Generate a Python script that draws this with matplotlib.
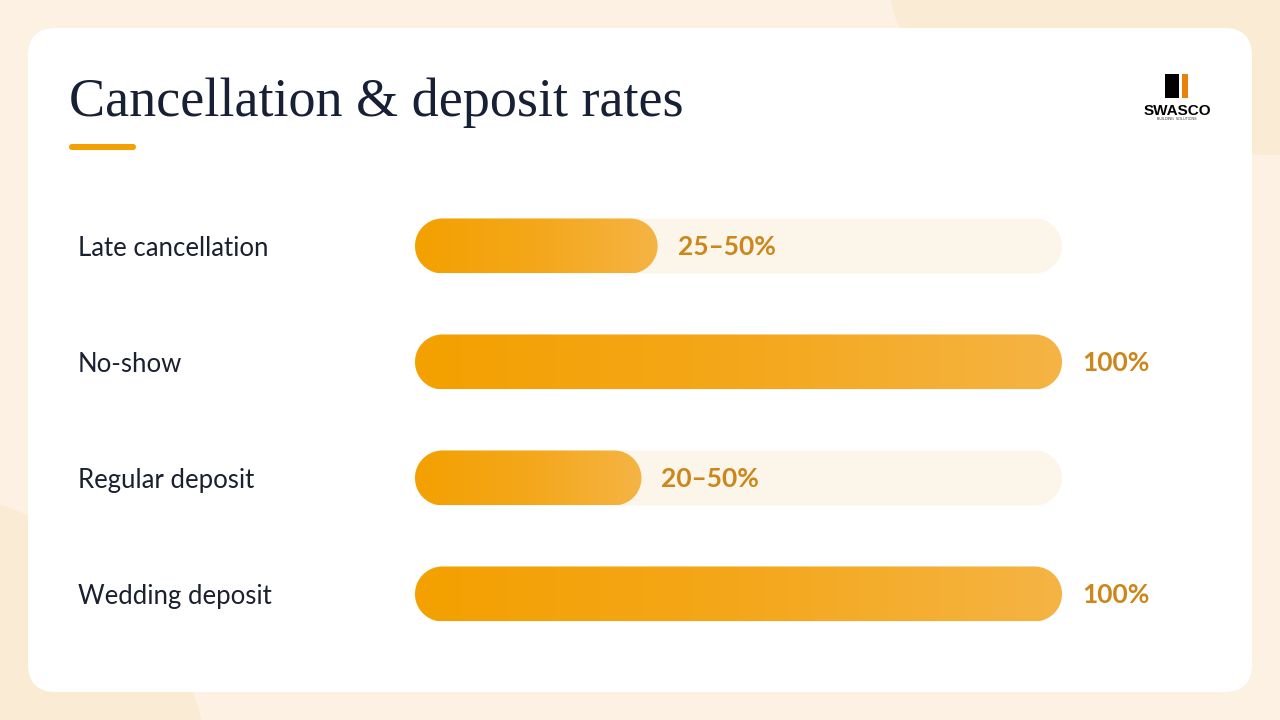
"""Cancellation & deposit rates: rounded gradient progress bars on a card."""
import numpy as np
import matplotlib
matplotlib.use("Agg")
import matplotlib.pyplot as plt
from matplotlib.patches import FancyBboxPatch, Ellipse, Rectangle, Circle, PathPatch
from matplotlib.path import Path
from matplotlib.colors import LinearSegmentedColormap
from matplotlib.transforms import blended_transform_factory

# data
categories = ["Late cancellation", "No-show", "Regular deposit", "Wedding deposit"]
values = [37.5, 100, 35, 100]          # midpoint of the quoted range, % of track
value_labels = ["25–50%", "100%", "20–50%", "100%"]

TITLE = "Cancellation & deposit rates"

W, H = 1280, 720
BG = "#FCF1E3"
BLOB = "#FAEBD5"
CARD = "#FFFFFF"
TRACK = "#FCF5EA"
ORANGE = "#F4A100"
VALUE_COLOR = "#CC861A"
TEXT = "#1A2030"

grad = LinearSegmentedColormap.from_list("bar", ["#F3A000", "#F4A71A", "#F5B444"])


def stadium(x_start, x_end, yc, rx, ry):
    """Closed pill outline with true semicircular ends (rx, ry in data units)."""
    t = np.linspace(-np.pi / 2, np.pi / 2, 40)
    right = np.column_stack([x_end - rx + rx * np.cos(t), yc + ry * np.sin(t)])
    left = np.column_stack([x_start + rx - rx * np.cos(t), yc - ry * np.sin(t)])
    verts = np.vstack([right, left, right[:1]])
    codes = [Path.MOVETO] + [Path.LINETO] * (len(verts) - 2) + [Path.CLOSEPOLY]
    return Path(verts, codes)


fig = plt.figure(figsize=(W / 100, H / 100), dpi=100)
fig.patch.set_facecolor(BG)

# background layer in pixel coordinates
bg = fig.add_axes([0, 0, 1, 1])
bg.set_xlim(0, W)
bg.set_ylim(H, 0)
bg.axis("off")
bg.add_patch(Ellipse((1280, -10), 780, 330, color=BLOB, lw=0))
bg.add_patch(Circle((-100, 800), 312, color=BLOB, lw=0))
bg.add_patch(FancyBboxPatch((28, 28), 1224, 664,
                            boxstyle="round,pad=0,rounding_size=28",
                            fc=CARD, ec="none"))

# title + accent underline
bg.text(69, 116, TITLE, fontsize=39, family="Liberation Serif",
        color="#182035", ha="left", va="baseline")
bg.add_patch(FancyBboxPatch((69, 144), 67, 6,
                            boxstyle="round,pad=0,rounding_size=3",
                            fc=ORANGE, ec="none"))

# logo
bg.add_patch(Rectangle((1165, 74), 14, 24, fc="#000000", ec="none"))
bg.add_patch(Rectangle((1182, 74), 6, 24, fc="#E8820C", ec="none"))
bg.text(1177, 115, "SWASCO", fontsize=11, family="Liberation Sans",
        weight="bold", color="#000000", ha="center", va="baseline")
bg.text(1177, 120, "BUILDING  SOLUTIONS", fontsize=2.6, family="Liberation Sans",
        color="#333333", ha="center", va="baseline")

# bar axes: x 0..100 spans pixels 415..1062, rows 116 px apart
x0, x1 = 415, 1062
y_top, y_bot = 188, 652
ax = fig.add_axes([x0 / W, 1 - y_bot / H, (x1 - x0) / W, (y_bot - y_top) / H])
ax.set_xlim(0, 100)
ax.set_ylim(len(categories) - 0.5, -0.5)
ax.axis("off")
ax.patch.set_alpha(0)

px_per_x = (x1 - x0) / 100
px_per_y = (y_bot - y_top) / len(categories)
bar_h = 55 / px_per_y
rx = 27.5 / px_per_x
ry = bar_h / 2

label_tf = blended_transform_factory(fig.transFigure, ax.transData)

for i, (cat, val, lab) in enumerate(zip(categories, values, value_labels)):
    ax.add_patch(PathPatch(stadium(0, 100, i, rx, ry), fc=TRACK, ec="none"))
    bar = PathPatch(stadium(0, val, i, rx, ry), fc="none", ec="none")
    ax.add_patch(bar)
    img = ax.imshow(np.linspace(0, 1, 256).reshape(1, -1), cmap=grad,
                    extent=[0, val, i + bar_h / 2, i - bar_h / 2],
                    aspect="auto", interpolation="bilinear", zorder=2)
    img.set_clip_path(bar)

    ax.text(78 / W, i + 0.02, cat, transform=label_tf, fontsize=18.5, family="Lato",
            color=TEXT, ha="left", va="center")
    ax.annotate(lab, (val, i), xytext=(20, -1), textcoords="offset pixels",
                fontsize=19, family="Lato", weight="bold", color=VALUE_COLOR,
                ha="left", va="center", zorder=3)

ax.set_xlim(0, 100)
ax.set_ylim(len(categories) - 0.5, -0.5)

fig.savefig("out.png", dpi=100, facecolor=BG)
